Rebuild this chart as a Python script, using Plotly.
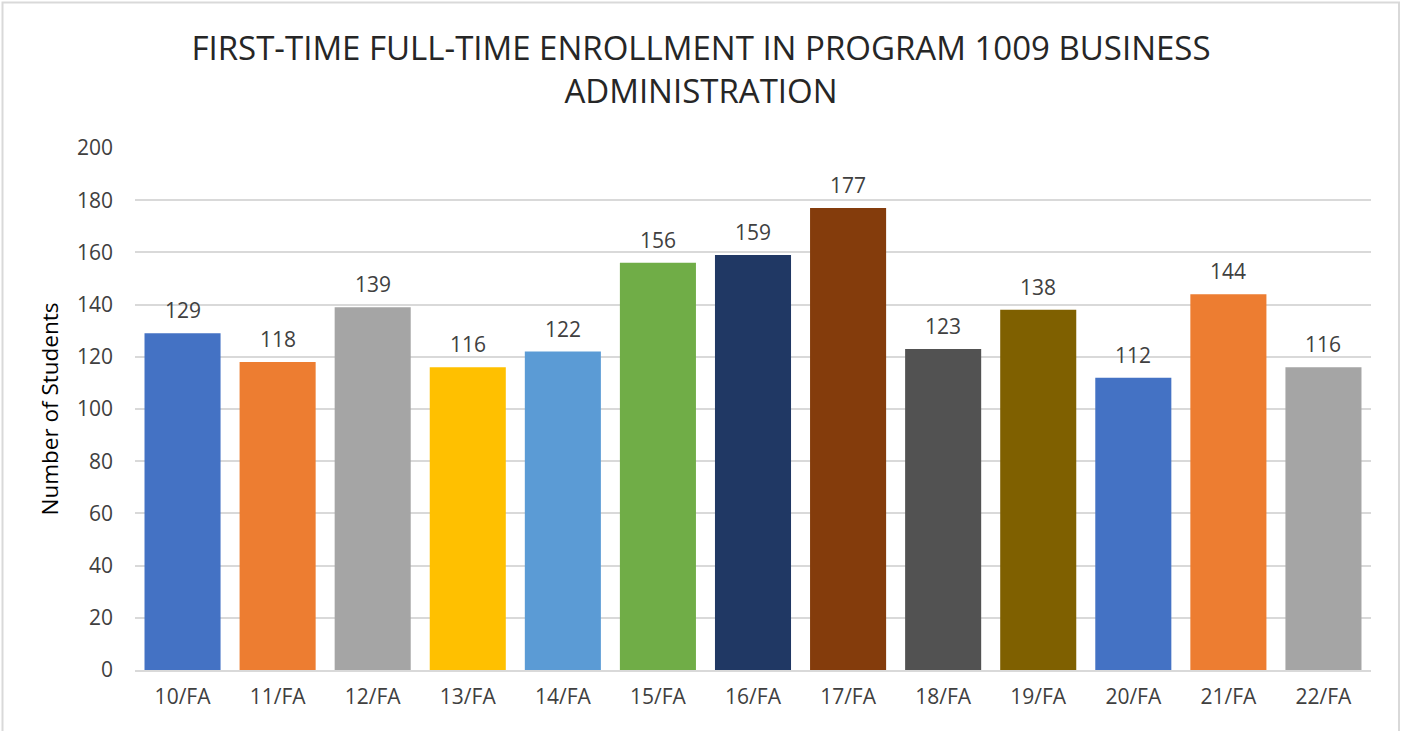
import plotly.graph_objects as go

categories = ["10/FA", "11/FA", "12/FA", "13/FA", "14/FA", "15/FA", "16/FA",
              "17/FA", "18/FA", "19/FA", "20/FA", "21/FA", "22/FA"]
students = [129, 118, 139, 116, 122, 156, 159, 177, 123, 138, 112, 144, 116]
bar_colors = ["#4472C4", "#ED7D31", "#A5A5A5", "#FFC000", "#5B9BD5", "#70AD47",
              "#203864", "#843C0C", "#525252", "#7F6000", "#4472C4", "#ED7D31", "#A5A5A5"]
y_ticks = [0, 20, 40, 60, 80, 100, 120, 140, 160, 180, 200]

FONT = "Open Sans"
TXT = "#404040"

fig = go.Figure(go.Bar(
    x=categories, y=students,
    marker=dict(color=bar_colors, line=dict(width=0)),
    hoverinfo="x+y",
))

for c, v in zip(categories, students):
    fig.add_annotation(x=c, y=v, text=str(v), showarrow=False,
                       yanchor="bottom", yshift=8, borderpad=0,
                       font=dict(family=FONT, size=21, color=TXT))

L, R, T, B = 135, 31, 148, 61
W, H = 1402, 731
pw, ph = W - L - R, H - T - B

def px2x(px):
    return (px - L) / pw

def py2y(py):
    return (H - B - py) / ph

fig.update_layout(
    width=W, height=H,
    margin=dict(l=L, r=R, t=T, b=B),
    paper_bgcolor="white", plot_bgcolor="white",
    bargap=0.2,
    showlegend=False,
    title=dict(
        text="FIRST-TIME FULL-TIME ENROLLMENT IN PROGRAM 1009 BUSINESS<br>ADMINISTRATION",
        x=0.5, xanchor="center", y=1 - 60 / H, yanchor="middle",
        font=dict(family=FONT, size=33, color="#262626"),
    ),
    xaxis=dict(
        showgrid=False, showline=True, linecolor="#D9D9D9", linewidth=2,
        ticks="", ticklabelstandoff=7,
        tickfont=dict(family=FONT, size=21, color=TXT),
    ),
    yaxis=dict(
        range=[0, 200], tickvals=y_ticks, showgrid=True, gridcolor="#D9D9D9",
        gridwidth=1.5, zeroline=False, showline=False, ticks="",
        tickfont=dict(family=FONT, size=21, color=TXT), ticklabelstandoff=21,
        title=dict(text="Number of Students", standoff=12,
                   font=dict(family=FONT, size=22.5, color="#000000")),
    ),
    shapes=[dict(type="rect", xref="paper", yref="paper",
                 x0=px2x(2.5), x1=px2x(1399), y0=py2y(740), y1=py2y(2.5),
                 line=dict(color="#D9D9D9", width=2), layer="below")],
)

fig.write_html("out.html", config={"displayModeBar": False},
               post_script="document.body.style.margin='0';document.body.style.overflow='hidden';")
